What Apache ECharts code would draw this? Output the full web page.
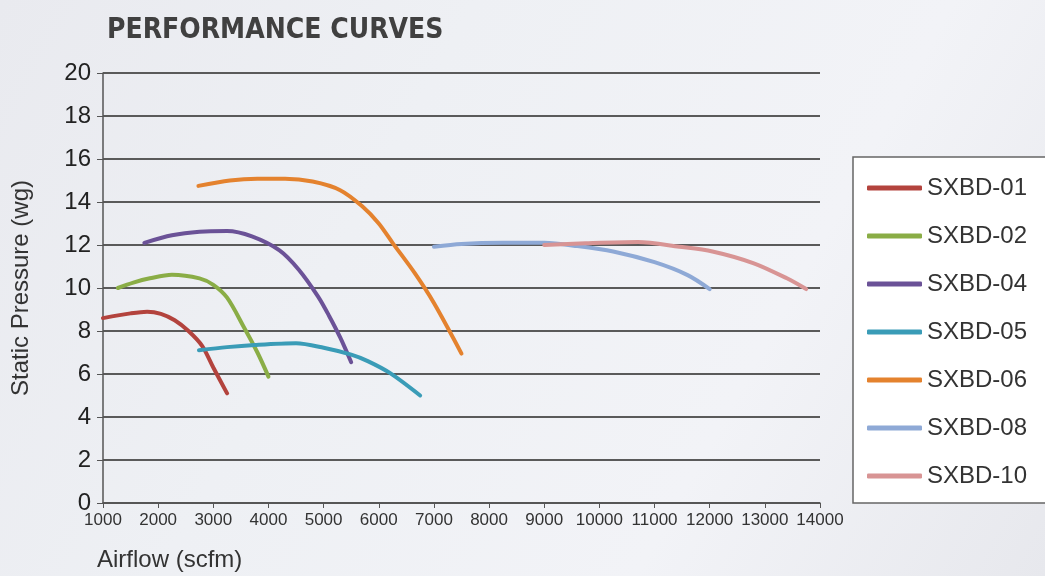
<!DOCTYPE html>
<html><head><meta charset="utf-8">
<script src="https://cdn.jsdelivr.net/npm/echarts@6/dist/echarts.min.js"></script>
<style>html,body{margin:0;padding:0;}#c{width:1045px;height:576px;}</style>
</head><body><div id="c"></div>
<script>
const seriesNames = ['SXBD-01','SXBD-02','SXBD-04','SXBD-05','SXBD-06','SXBD-08','SXBD-10'];
const sxbd01 = [[1000,8.6],[1500,8.82],[1800,8.9],[2050,8.8],[2300,8.5],[2550,8.0],[2800,7.3],[3000,6.3],[3250,5.1]];
const sxbd02 = [[1270,10.0],[1550,10.25],[1850,10.45],[2250,10.62],[2750,10.45],[3000,10.15],[3250,9.55],[3550,8.2],[3800,7.0],[4000,5.88]];
const sxbd04 = [[1750,12.1],[2250,12.45],[2750,12.62],[3250,12.65],[3700,12.4],[4200,11.75],[4550,10.85],[4900,9.6],[5100,8.7],[5300,7.7],[5500,6.55]];
const sxbd05 = [[2740,7.1],[3250,7.25],[3750,7.35],[4500,7.43],[5000,7.22],[5500,6.9],[5800,6.6],[6200,6.05],[6750,5.0]];
const sxbd06 = [[2730,14.75],[3300,15.0],[3800,15.08],[4300,15.08],[4800,14.95],[5300,14.55],[5700,13.8],[6000,13.0],[6250,12.1],[6650,10.7],[7000,9.3],[7500,6.95]];
const sxbd08 = [[7000,11.92],[7500,12.05],[8250,12.1],[9000,12.1],[9600,11.95],[10250,11.7],[11000,11.2],[11600,10.6],[12000,9.95]];
const sxbd10 = [[9000,12.0],[9750,12.08],[10700,12.14],[11450,11.92],[12050,11.7],[12800,11.15],[13400,10.45],[13750,9.95]];
const allData = [sxbd01,sxbd02,sxbd04,sxbd05,sxbd06,sxbd08,sxbd10];
const colors = ['#b3433d','#8aad46','#6b5297','#3a9cb7','#e4822e','#8ea9d6','#d89494'];

const chart = echarts.init(document.getElementById('c'));
chart.setOption({
  backgroundColor: new echarts.graphic.LinearGradient(0,0,1,1,[
    {offset:0,color:'#e9eaef'},{offset:0.35,color:'#eef0f4'},{offset:0.7,color:'#f2f3f7'},{offset:1,color:'#e7e8ed'}]),
  animation:false,
  title:{text:'PERFORMANCE CURVES', left:102, top:12,
    textStyle:{fontFamily:'DejaVu Sans Condensed, DejaVu Sans', fontWeight:'bold', fontSize:28, color:'#404040'}},
  grid:{left:103, right:225, top:73, bottom:73},
  legend:{
    orient:'vertical', left:853, top:157,
    data: seriesNames,
    backgroundColor:'#ffffff', borderColor:'#666', borderWidth:1.5,
    padding:[19,60,15,14],
    itemWidth:55, itemHeight:5, itemGap:24,
    icon:'roundRect',
    textStyle:{fontFamily:'Liberation Sans, Arial', fontSize:24, color:'#333', lineHeight:24}
  },
  xAxis:{
    type:'value', min:1000, max:14000, interval:1000,
    name:'Airflow (scfm)', nameLocation:'start', nameGap:0,
    nameTextStyle:{fontFamily:'Liberation Sans, Arial', fontSize:24, color:'#333', align:'left', verticalAlign:'top', padding:[45,0,0,-6]},
    axisLine:{lineStyle:{color:'#555', width:1.5}},
    axisTick:{show:true, length:5, lineStyle:{color:'#555'}},
    axisLabel:{fontFamily:'Liberation Sans Narrow, Liberation Sans, Arial', fontSize:17, color:'#333', margin:9,
      formatter: v => String(v)},
    splitLine:{show:false}
  },
  yAxis:{
    type:'value', min:0, max:20, interval:2,
    name:'Static Pressure (wg)', nameLocation:'middle', nameGap:70, nameRotate:90,
    nameTextStyle:{fontFamily:'Liberation Sans, Arial', fontSize:24, color:'#333'},
    axisLine:{show:true, lineStyle:{color:'#555', width:1.5}},
    axisTick:{show:true, length:6, inside:false, lineStyle:{color:'#555'}},
    axisLabel:{fontFamily:'Liberation Sans, Arial', fontSize:24, color:'#222', margin:12},
    splitLine:{show:true, lineStyle:{color:'#5a5a5a', width:2}}
  },
  series: allData.map((d,i)=>({
    name: seriesNames[i], type:'line', data:d, smooth:0.3, showSymbol:false,
    lineStyle:{width:4, color:colors[i], cap:'round'}, itemStyle:{color:colors[i]}
  }))
});
</script></body></html>
